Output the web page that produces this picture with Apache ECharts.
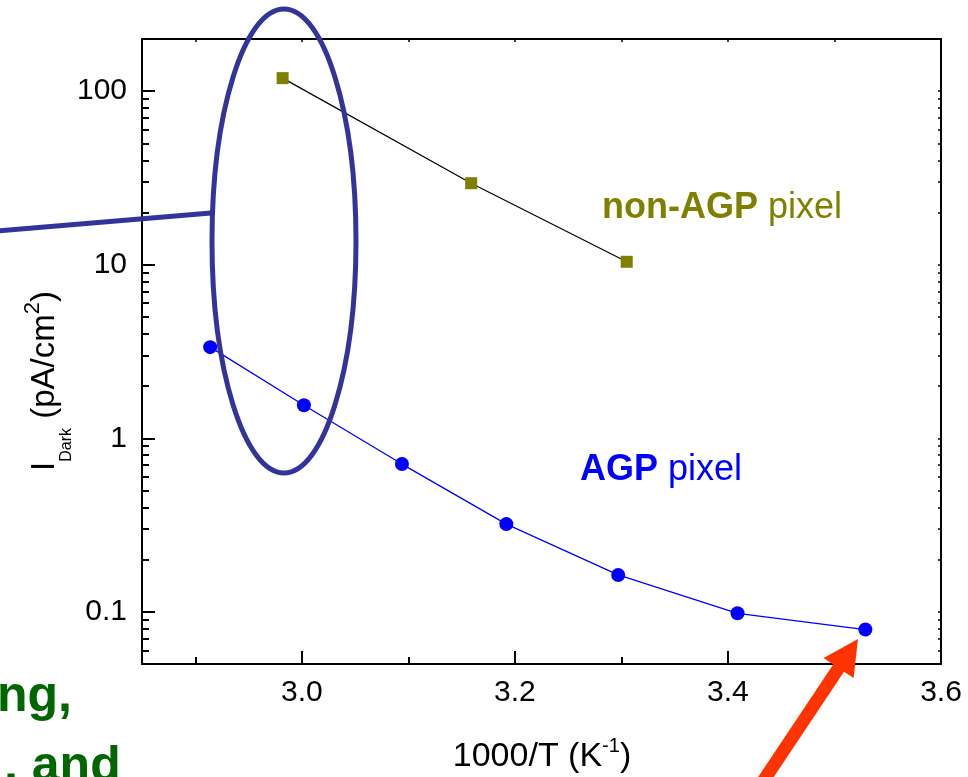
<!DOCTYPE html>
<html><head><meta charset="utf-8">
<script src="https://cdn.jsdelivr.net/npm/echarts@6/dist/echarts.min.js"></script>
<style>html,body{margin:0;padding:0;background:#fff}#c{width:968px;height:777px}</style>
</head><body><div id="c"></div>
<script>
// ---- data ----
const xNonAGP = [2.982, 3.159, 3.305];
const yNonAGP = [119, 29.5, 10.4];
const xAGP = [2.914, 3.002, 3.094, 3.192, 3.297, 3.409, 3.529];
const yAGP = [3.35, 1.55, 0.71, 0.32, 0.163, 0.098, 0.079];
const xMajorTicks = [3.0, 3.2, 3.4, 3.6];
const xMinorTicks = [2.9, 3.1, 3.3, 3.5];
const xAllTicks = [2.9, 3.0, 3.1, 3.2, 3.3, 3.4, 3.5];
const yMajorTicks = [0.1, 1, 10, 100];
const yMinorTicks = [0.05, 0.06, 0.07, 0.08, 0.09, 0.2, 0.3, 0.4, 0.5, 0.6, 0.7, 0.8, 0.9,
                     2, 3, 4, 5, 6, 7, 8, 9, 20, 30, 40, 50, 60, 70, 80, 90];
const xRange = [2.85, 3.6];
const yRange = [0.05, 200];
const labelNonAGP = ['non-AGP', 'pixel'];
const labelAGP = ['AGP', 'pixel'];

const FONT = '"Liberation Sans", Arial, Helvetica, sans-serif';
const OLIVE = '#808000', BLUE = '#0000ff', ELL = '#333399';
const lg = v => Math.log10(v);
const yLogMin = lg(yRange[0]), yLogMax = lg(yRange[1]);

const chart = echarts.init(document.getElementById('c'), null, {renderer: 'canvas'});
const axisLineStyle = {color: '#000', width: 2};

const option = {
  animation: false,
  backgroundColor: '#fff',
  grid: {left: 142, right: 27, top: 39, bottom: 113},
  xAxis: [
    {type: 'value', min: xRange[0], max: xRange[1], position: 'bottom',
     axisLine: {show: true, onZero: false, lineStyle: axisLineStyle},
     axisTick: {show: true, inside: true, length: 13, lineStyle: {color: '#000', width: 2}, customValues: xMajorTicks},
     axisLabel: {show: true, customValues: xMajorTicks, formatter: v => Number(v).toFixed(1),
                 fontSize: 30, color: '#000', fontFamily: FONT, margin: 14},
     splitLine: {show: false}},
    {type: 'value', min: xRange[0], max: xRange[1], position: 'bottom',
     axisLine: {show: false, onZero: false},
     axisTick: {show: true, inside: true, length: 7, lineStyle: {color: '#000', width: 2}, customValues: xMinorTicks},
     axisLabel: {show: false}, splitLine: {show: false}},
    {type: 'value', min: xRange[0], max: xRange[1], position: 'top',
     axisLine: {show: true, onZero: false, lineStyle: axisLineStyle},
     axisTick: {show: true, inside: true, length: 3, lineStyle: {color: '#000', width: 1.5}, customValues: xAllTicks},
     axisLabel: {show: false}, splitLine: {show: false}}
  ],
  yAxis: [
    {type: 'log', logBase: 10, min: yRange[0], max: yRange[1], position: 'left',
     axisLine: {show: true, onZero: false, lineStyle: axisLineStyle},
     axisTick: {show: true, inside: true, length: 13, lineStyle: {color: '#000', width: 2}},
     axisLabel: {show: true, fontSize: 30, color: '#000', fontFamily: FONT, margin: 15,
                 showMinLabel: false, showMaxLabel: false,
                 formatter: v => {
                   const m = yMajorTicks.find(t => Math.abs(t - v) / t < 1e-6);
                   return m === undefined ? '' : String(m);
                 }},
     splitLine: {show: false}, minorTick: {show: false}},
    {type: 'value', min: yLogMin, max: yLogMax, position: 'left',
     axisLine: {show: false, onZero: false},
     axisTick: {show: true, inside: true, length: 7, lineStyle: {color: '#000', width: 2}, customValues: yMinorTicks.map(lg)},
     axisLabel: {show: false}, splitLine: {show: false}},
    {type: 'value', min: yLogMin, max: yLogMax, position: 'right',
     axisLine: {show: true, onZero: false, lineStyle: axisLineStyle},
     axisTick: {show: true, inside: true, length: 3, lineStyle: {color: '#000', width: 1.5},
                customValues: yMinorTicks.concat(yMajorTicks).map(lg)},
     axisLabel: {show: false}, splitLine: {show: false}}
  ],
  series: [
    {name: 'non-AGP', type: 'line', xAxisIndex: 0, yAxisIndex: 0,
     data: xNonAGP.map((x, i) => [x, yNonAGP[i]]),
     symbol: 'rect', symbolSize: 12, itemStyle: {color: OLIVE},
     lineStyle: {color: '#000', width: 1.2}, z: 3},
    {name: 'AGP', type: 'line', xAxisIndex: 0, yAxisIndex: 0,
     data: xAGP.map((x, i) => [x, yAGP[i]]),
     symbol: 'circle', symbolSize: 14, itemStyle: {color: BLUE},
     lineStyle: {color: BLUE, width: 1.3}, z: 3}
  ],
  graphic: [
    {type: 'text', x: 602, y: 208, z: 50,
     style: {text: '{b|' + labelNonAGP[0] + '}{r| ' + labelNonAGP[1] + '}', verticalAlign: 'middle',
             rich: {b: {fontSize: 36, fontWeight: 'bold', fontFamily: FONT, fill: OLIVE},
                    r: {fontSize: 36, fontFamily: FONT, fill: OLIVE}}}},
    {type: 'text', x: 580, y: 470, z: 50,
     style: {text: '{b|' + labelAGP[0] + '}{r| ' + labelAGP[1] + '}', verticalAlign: 'middle',
             rich: {b: {fontSize: 36, fontWeight: 'bold', fontFamily: FONT, fill: BLUE},
                    r: {fontSize: 36, fontFamily: FONT, fill: BLUE}}}},
    {type: 'text', x: 542, y: 736, z: 50,
     style: {text: '{m|1000/T (K}{p|-1}{m|)}', align: 'center', verticalAlign: 'top',
             rich: {m: {fontSize: 34, lineHeight: 34, verticalAlign: 'top', padding: [4, 0, 0, 0], fontFamily: FONT, fill: '#000'},
                    p: {fontSize: 20, lineHeight: 20, verticalAlign: 'top', fontFamily: FONT, fill: '#000'}}}},
    {type: 'text', x: 38, y: 381, rotation: Math.PI / 2, z: 50,
     style: {text: '{m|I}{s|Dark}{m| (pA/cm}{p|2}{m|)}', align: 'center', verticalAlign: 'middle',
             rich: {m: {fontSize: 33, lineHeight: 33, verticalAlign: 'top', padding: [7, 0, 0, 0], fontFamily: FONT, fill: '#000'},
                    s: {fontSize: 16, lineHeight: 16, verticalAlign: 'top', padding: [37, 0, 0, 0], fontFamily: FONT, fill: '#000'},
                    p: {fontSize: 22, lineHeight: 22, verticalAlign: 'top', fontFamily: FONT, fill: '#000'}}}},
    {type: 'ellipse', z: 60, shape: {cx: 284, cy: 241, rx: 72, ry: 232},
     style: {fill: 'none', stroke: ELL, lineWidth: 5}},
    {type: 'line', z: 60, shape: {x1: -2, y1: 231, x2: 211, y2: 213},
     style: {stroke: ELL, lineWidth: 5}},
    {type: 'polygon', z: 70,
     shape: {points: [[858, 639], [853.6, 678.1], [844, 671.7], [752.4, 809], [741.6, 801.8], [833.2, 664.5], [823.6, 658.1]]},
     style: {fill: '#ff3300'}},
    {type: 'text', x: -3, y: 697, z: 50,
     style: {text: 'ng,', verticalAlign: 'middle', fontSize: 50, fontWeight: 'bold', fontFamily: FONT, fill: '#006600'}},
    {type: 'text', x: 4, y: 767, z: 50,
     style: {text: ', and', verticalAlign: 'middle', fontSize: 50, fontWeight: 'bold', fontFamily: FONT, fill: '#006600'}}
  ]
};
chart.setOption(option);
</script></body></html>
